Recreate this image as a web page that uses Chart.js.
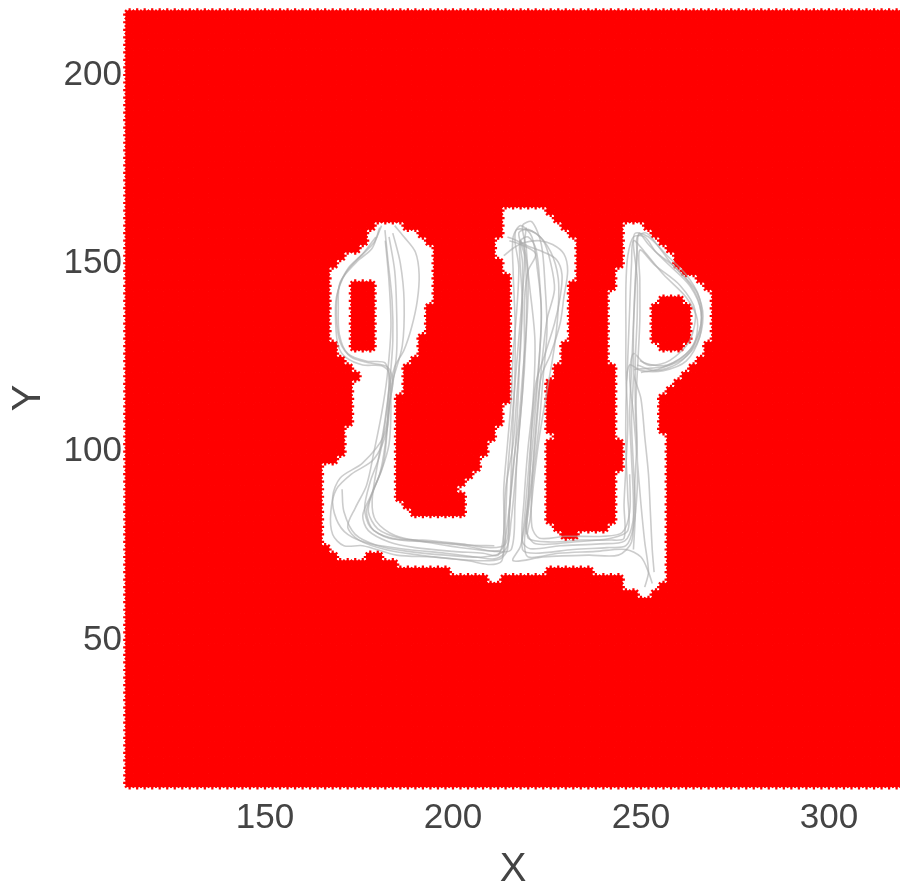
<!DOCTYPE html>
<html>
<head>
<meta charset="utf-8">
<script src="https://cdn.jsdelivr.net/npm/chart.js@4.4.0/dist/chart.umd.min.js"></script>
<style>
  html, body { margin: 0; padding: 0; background: #fff; }
  #wrap { width: 900px; height: 890px; }
</style>
</head>
<body>
<div id="wrap"><canvas id="chart" width="900" height="890"></canvas></div>
<script>
// Grid of red markers, with the region covered by the handwriting left empty

const gridX = [114, 320];      // first / last column
const gridY = [12, 216];       // first / last row
const gridStep = 2;
const edgeMargin = 1.0;        // marker overhang into the empty area
const holeMargin = 0.6;

const xTicks = [150, 200, 250, 300];
const yTicks = [50, 100, 150, 200];

// outer edge of the empty (white) region
const outline = [
  [179.8,160.6],[184.0,160.6],[191.2,156.1],[193.9,153.5],[193.9,147.3],[193.1,140.2],
  [191.2,131.4],[188.6,125.0],[185.9,122.3],[185.1,117.0],[184.0,104.8],[183.8,95.7],
  [185.1,87.0],[187.8,82.4],[191.2,81.6],[196.5,82.2],[201.1,81.1],[202.7,81.6],
  [203.7,87.0],[202.7,90.4],[205.3,91.5],[208.0,95.7],[209.8,99.5],[210.6,101.1],
  [213.3,107.4],[215.2,114.4],[216.0,125.0],[216.0,138.3],[215.2,147.3],[212.5,151.6],
  [213.0,156.9],[214.4,163.3],[217.0,164.9],[223.9,164.9],[225.8,162.2],[230.3,158.0],
  [231.9,154.3],[231.9,147.3],[230.3,142.8],[230.3,132.2],[228.5,126.9],[225.8,121.5],
  [223.1,116.2],[223.1,108.2],[225.8,103.7],[223.9,100.3],[223.1,94.1],[223.1,80.9],
  [226.6,79.0],[230.3,76.3],[237.2,78.2],[241.0,79.0],[243.6,81.6],[244.4,87.0],
  [245.2,97.6],[244.9,104.8],[243.6,113.6],[244.4,120.7],[241.8,126.9],[241.0,131.4],
  [242.6,140.2],[243.6,144.7],[245.2,148.9],[246.3,158.0],[247.1,160.6],[249.7,160.6],
  [254.3,156.1],[257.7,150.8],[261.2,147.3],[265.7,144.7],[267.6,142.0],[267.6,131.4],
  [265.7,126.9],[263.0,122.3],[259.6,119.7],[255.9,117.0],[254.3,113.6],[255.1,104.8],
  [255.9,95.7],[255.1,87.0],[255.9,78.2],[256.9,73.7],[256.9,69.1],[256.9,66.5],
  [254.3,63.8],[250.5,62.2],[247.1,63.8],[244.4,67.6],[239.1,68.4],[230.3,70.2],
  [225.0,69.1],[217.0,67.6],[210.6,66.5],[207.2,67.6],[199.2,69.1],[194.7,70.2],
  [185.9,70.2],[180.6,72.9],[177.1,73.7],[174.5,71.0],[170.7,71.8],[167.3,74.5],
  [165.4,80.9],[166.5,89.6],[165.4,94.9],[168.1,96.8],[171.8,99.5],[173.4,109.0],
  [175.3,120.7],[173.4,122.3],[170.7,125.0],[169.1,128.7],[168.1,135.6],[167.3,142.0],
  [168.1,147.3],[171.8,151.6],[175.3,153.5],[178.7,156.9]
];

// red islands inside the empty region (their visible edge)
const leftHole = [
  [172.4,146.6],[178.8,146.6],[180.4,143.0],[180.2,127.6],[176.6,126.8],[172.2,127.6],
  [171.4,134.8],[171.4,143.0]
];
const rightHole = [
  [254.6,141.4],[258.0,142.2],[261.8,141.0],[263.4,136.5],[263.4,131.0],[261.8,127.4],
  [258.0,126.4],[254.6,127.4],[252.8,131.0],[252.8,137.0]
];

// pen trajectories (grey)
const trace1 = [[181.9,158.8],[182.7,150.8],[183.8,140.2],[184.0,129.5],[183.2,118.9],[181.9,108.2],
  [180.1,97.6],[178.5,87.0],[179.5,81.6],[184.6,77.7],[193.9,75.8],[204.5,74.2],[212.5,73.7],
  [213.8,76.3],[215.2,87.0],[216.5,100.3],[217.3,113.6],[217.8,126.9],[218.4,140.2],[217.8,150.8],
  [217.8,156.1],[219.1,153.5],[220.5,142.8],[221.8,129.5],[221.3,113.6],[219.9,100.3],[218.9,87.0],
  [218.4,76.3],[220.5,74.2],[228.5,75.0],[239.1,75.5],[245.7,76.3],[247.9,81.6],[248.4,92.3],
  [248.9,102.9],[248.7,113.6],[249.2,124.2],[249.7,134.8],[249.7,145.5],[249.7,153.5],[253.7,149.5],
  [260.4,144.1],[264.4,137.5],[263.0,129.5],[257.7,124.2],[252.4,122.9],[249.7,124.2]];
const trace2 = [[180.5,159.5],[178.5,154],[174.5,150.5],[170,145],[169.5,138],[169.8,131],[172,126],
  [177,124],[182,123.5],[183,118],[182,108],[180.5,99],[178,92],[176.5,85],[178,80],[183,77],
  [192,76.5],[202,75.5],[210,74.5],[214,75.5],[215,84],[215.5,95],[216,108],[216.5,122],[216.5,135],
  [216,148],[216,157],[218,160],[221,157],[222.5,148],[223.5,138],[223,125],[222,112],[221,100],
  [220,88],[219.5,79],[222,75.5],[232,76],[242,77],[246.5,79],[246.5,88],[246,100],[246,112],
  [246.5,125],[247,138],[247.5,150],[248,156],[251,153],[256,147],[262,141],[265,135],[264,128],
  [260,123.5],[254,121.5],[249,123]];
const trace3 = [[183,157],[184.5,148],[185,138],[185,126],[183.5,115],[181.5,104],[176,97],[170,93],
  [168,88],[169,82],[172,78],[178,75.5],[188,74],[198,73],[206,72],[211,71.5],[213.5,73],[214,82],
  [214.5,94],[215.5,106],[216.5,118],[217.5,130],[218.5,142],[219,152],[217.5,158],[220,159],
  [224,156],[226,150],[227,143],[225,135],[223.5,122],[222.5,110],[221.5,98],[220,86],[218,75],
  [216,71],[224,72],[236,72.5],[244,72.5],[247.5,76],[248,86],[247.5,98],[247,110],[247.5,122],
  [248,134],[248.5,146],[249,154],[249.5,158],[252,155],[257,150],[263,144],[266,137],[265,130],
  [261,125],[255,122],[250,121]];
const trace4 = [[179.5,157],[176,152.5],[172,148.5],[169.5,143],[169,136],[170,129],[173,125],
  [178,123.5],[182.5,122.5],[184,119],[183,112],[182,102],[180.5,94],[178,88],[176,83],[177.5,79],
  [183,76],[190,74.5],[200,73.5],[208,73],[212,72.5],[213.5,78],[213.5,90],[214.5,102],[215.5,114],
  [216,126],[217,138],[217.5,149],[216.5,156],[217,159],[222,158],[226,153],[228,146],[228,138],
  [227,128],[225,116],[223,104],[221.5,92],[220.5,82],[220,77],[226,76],[234,76.5],[242,76.5],
  [245.5,77],[245.5,86],[246,96],[246.5,108],[246,120],[246,132],[246,144],[246.5,152],[248,157],
  [251,157],[254,153],[259,149],[264,143],[266,137],[265.5,130],[262,124],[256,121.5],[250,121.5],
  [247,123],[246,118]];
const trace5 = [[182,156],[183,145],[183.5,133],[182.5,120],[181,110],[179,100],[177,91],[174,85],
  [172,80],[175,76.5],[182,74],[191,72.5],[200,71.5],[208,71],[212.5,71.5],[214.5,74],[215,84],
  [216,96],[217.5,108],[218.5,120],[219.5,132],[220,144],[219.5,154],[218.5,160],[221,161],
  [223.5,155],[224.5,144],[225,132],[224,120],[223,108],[221.5,95],[220,84],[219,76],[220,72],
  [228,73],[238,73.5],[246,74],[250,72],[252,68],[253,65]];
const trace6 = [[184,158],[186,150],[187,140],[186.5,128],[183.5,117],[182.5,106],[179,98],[173,94],
  [169,90],[167.5,84],[168,78],[171,75],[176,75],[185,72.5],[195,72],[204,71],[210,70],[213,71],
  [213.5,78],[214,90],[216,102],[217,115],[218,128],[218.5,140],[218.5,150],[218,156],[220,157],
  [222,154],[223,146],[223.5,134],[222.5,120],[221,106],[220,94],[219,82],[218.5,74],[222,73],
  [232,74],[241,74.5],[246,75],[248,80],[249,90],[249,100],[248.5,112],[248.5,124],[249,136],
  [249,146],[248,155],[248.5,158],[252,157],[257,152],[262,147],[265.5,141],[266,134],[263,127],
  [257,123],[251,123.5],[248,126],[247,120],[248,110],[249,98],[250,86],[251,76],[252,68],[251,64]];
const trace7 = [[214.5,157],[217,156],[220,154.5],[224,153],[227.5,151],[229,147],[228.5,141],
  [227,134],[224.5,126],[222,118],[221,108],[220.5,96],[220,86],[219.5,78]];
const trace8 = [[184.5,160],[187,157],[190,153],[191,147],[190.5,140],[189,133],[187,127],
  [184.5,122.5],[183,116],[182.5,106],[181.5,97],[179,90],[177,84],[179,79],[186,76.5],[195,76],
  [204,75.2],[211,75]];
const trace9 = [[215,156],[218,155],[222,152.5],[220,148],[219,140],[219,128],[218.5,116],[217.5,104],
  [216.5,92],[215.5,82],[214,74],[208,72],[198,72.5],[188,73.5],[180,75],[174,78],[171,84],[170.5,90]];
const trace10 = [[248,74],[248.5,84],[248,96],[247.5,108],[248,120],[248,132],[248.5,144],[249,152],
  [249,157],[251.5,158],[255,154],[258,150],[262,146],[265,142],[266.5,136],[265,129],[261,124.5],
  [256,122.5],[251,122],[248,121.5],[250,114],[251,104],[252,94],[252.5,84],[253,74],[253.5,68]];
const trace11 = [[181,160],[179,155.5],[175,151.5],[171.5,147.5],[169,141],[168.8,134],[169.5,128],
  [171.5,125],[176,123],[181,122.8],[183,121],[183.5,112],[183,102],[181,95],[178.5,89],[177.5,84],
  [180,79.5],[186,77],[194,76],[203,75],[211,73.5],[215.5,74],[216.5,86],[217,98],[218,110],
  [219,122],[219.5,134],[219.5,146],[219,155],[219.5,159.5]];
const trace12 = [[213.5,152],[216,154],[219,155.5],[223,156],[226.5,155],[229.5,152.5],[230.5,148],
  [229.5,141],[228.5,134],[226,126],[223.5,120],[222.5,112],[221.5,100],[221,90],[221,80],[223,77],
  [230,77.5],[240,77.5],[245,78.5],[247,84],[247,94]];

const traces = [trace1, trace2, trace3, trace4, trace5, trace6, trace7, trace8,
                trace9, trace10, trace11, trace12];

function insidePoly(x, y, poly) {
  let c = false;
  for (let i = 0, j = poly.length - 1; i < poly.length; j = i++) {
    const xi = poly[i][0], yi = poly[i][1], xj = poly[j][0], yj = poly[j][1];
    if (((yi > y) !== (yj > y)) && (x < (xj - xi) * (y - yi) / (yj - yi) + xi)) c = !c;
  }
  return c;
}

function edgeDist(x, y, poly) {
  let best = Infinity;
  for (let i = 0, j = poly.length - 1; i < poly.length; j = i++) {
    const ax = poly[j][0], ay = poly[j][1], bx = poly[i][0], by = poly[i][1];
    const dx = bx - ax, dy = by - ay;
    let t = ((x - ax) * dx + (y - ay) * dy) / (dx * dx + dy * dy);
    t = Math.max(0, Math.min(1, t));
    const ex = ax + t * dx - x, ey = ay + t * dy - y;
    best = Math.min(best, Math.sqrt(ex * ex + ey * ey));
  }
  return best;
}

function inHole(x, y, poly) {
  return insidePoly(x, y, poly) && edgeDist(x, y, poly) >= holeMargin;
}

function buildGrid() {
  const pts = [];
  for (let y = gridY[0]; y <= gridY[1]; y += gridStep) {
    for (let x = gridX[0]; x <= gridX[1]; x += gridStep) {
      const nearInk = insidePoly(x, y, outline) || edgeDist(x, y, outline) < edgeMargin;
      const empty = nearInk && !inHole(x, y, leftHole) && !inHole(x, y, rightHole);
      if (!empty) pts.push({x: x, y: y});
    }
  }
  return pts;
}

const gridPoints = buildGrid();
const RED = '#ff0000';
const FONT = 'Liberation Sans, Arial, Helvetica, sans-serif';

const datasets = traces.map(t => ({
  type: 'line',
  data: t.map(p => ({x: p[0], y: p[1]})),
  borderColor: 'rgba(170,170,170,0.6)',
  borderWidth: 1.6,
  pointRadius: 0,
  tension: 0.3,
  fill: false,
  order: 0
}));

// hoverRadius only widens the in-area test so edge columns are still drawn
datasets.push({
  data: gridPoints,
  pointStyle: 'star',
  pointRadius: 6.5,
  hoverRadius: 12,
  borderColor: RED,
  borderWidth: 2.2,
  backgroundColor: RED,
  clip: false,
  order: 1
});
datasets.push({
  data: gridPoints,
  pointStyle: 'circle',
  pointRadius: 4.6,
  hoverRadius: 12,
  borderWidth: 0,
  backgroundColor: RED,
  clip: false,
  order: 2
});

function noPad(s) {
  s.paddingLeft = 0; s.paddingRight = 0; s.paddingTop = 0; s.paddingBottom = 0;
}

new Chart(document.getElementById('chart'), {
  type: 'scatter',
  data: { datasets: datasets },
  options: {
    responsive: false,
    devicePixelRatio: 1,
    animation: false,
    events: [],
    layout: { autoPadding: false, padding: { top: 7, right: 0, left: 0, bottom: 0 } },
    plugins: { legend: { display: false }, tooltip: { enabled: false } },
    scales: {
      x: {
        type: 'linear',
        min: 113.03,
        max: 318.9,
        grid: { display: false, drawTicks: false },
        border: { display: false },
        afterBuildTicks: s => { s.ticks = xTicks.map(v => ({value: v})); },
        afterFit: s => { s.height = 101; noPad(s); },
        ticks: { color: '#444', padding: 8, font: { family: FONT, size: 35 } },
        title: { display: true, text: 'X', color: '#444', padding: { top: 0, bottom: 0 },
                 font: { family: FONT, size: 40, lineHeight: 1.0 } }
      },
      y: {
        type: 'linear',
        min: 10.4,
        max: 218.05,
        grid: { display: false, drawTicks: false },
        border: { display: false },
        afterBuildTicks: s => { s.ticks = yTicks.map(v => ({value: v})); },
        afterFit: s => { s.width = 126; noPad(s); },
        ticks: { color: '#444', padding: 4, font: { family: FONT, size: 35 } },
        title: { display: true, text: 'Y', color: '#444', padding: { top: 5, bottom: 0 },
                 font: { family: FONT, size: 40 } }
      }
    }
  }
});
</script>
</body>
</html>
